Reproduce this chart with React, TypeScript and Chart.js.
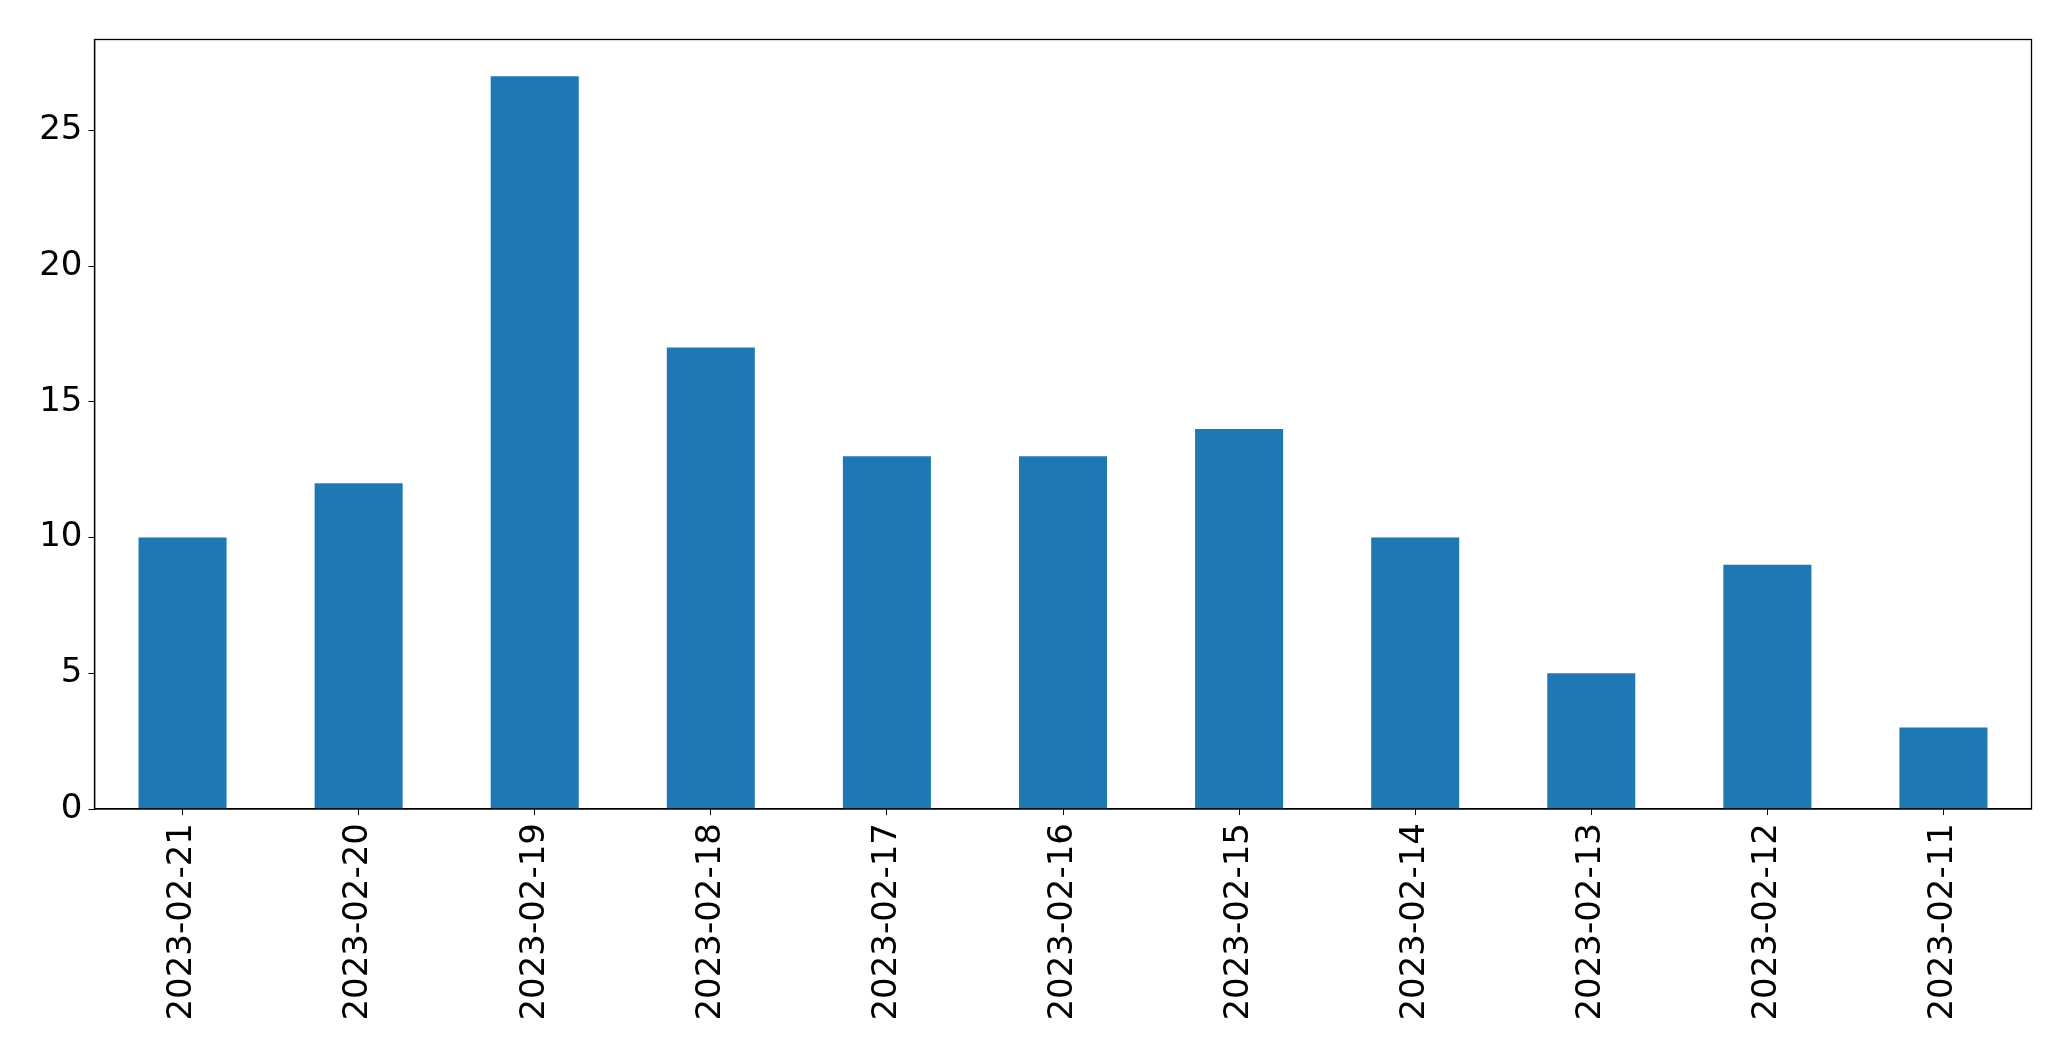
import React, { useEffect, useRef } from "react";
import { Chart, registerables } from "chart.js";

Chart.register(...registerables);

const categories = [
  "2023-02-21", "2023-02-20", "2023-02-19", "2023-02-18", "2023-02-17", "2023-02-16",
  "2023-02-15", "2023-02-14", "2023-02-13", "2023-02-12", "2023-02-11",
];
const counts = [10, 12, 27, 17, 13, 13, 14, 10, 5, 9, 3];
const yTicks = [0, 5, 10, 15, 20, 25];
const yMax = 28.35;

const W = 2071;
const H = 1061;
const LEFT = 94.5;
const TOP = 39.5;
const RIGHT = 2031.5;
const BOTTOM = 809;

const frame = {
  id: "frame",
  afterDraw(chart: any) {
    const { ctx, chartArea } = chart;
    ctx.save();
    ctx.strokeStyle = "#000";
    ctx.lineWidth = 1.3;
    ctx.strokeRect(chartArea.left, chartArea.top, chartArea.right - chartArea.left, chartArea.bottom - chartArea.top);
    ctx.restore();
  },
};

export default function App() {
  const ref = useRef<HTMLCanvasElement | null>(null);
  useEffect(() => {
    document.body.style.margin = "0";
    const font = { family: "'DejaVu Sans', sans-serif", size: 34 };
    const chart = new Chart(ref.current!, {
      type: "bar",
      data: {
        labels: categories,
        datasets: [
          {
            data: counts,
            backgroundColor: "#1f77b4",
            borderWidth: 0,
            barPercentage: 0.5,
            categoryPercentage: 1,
          },
        ],
      },
      options: {
        animation: false,
        responsive: false,
        devicePixelRatio: 1,
        layout: { padding: { left: 0, top: TOP, right: W - RIGHT, bottom: 0 } },
        plugins: { legend: { display: false }, tooltip: { enabled: false } },
        scales: {
          x: {
            offset: true,
            grid: { display: true, drawOnChartArea: false, drawTicks: true, tickLength: 6, color: "#000", offset: false },
            border: { display: true, color: "#000", width: 1.3 },
            ticks: { color: "#000", font, minRotation: 90, maxRotation: 90, padding: 8, autoSkip: false },
            afterFit(scale: any) {
              scale.height = H - BOTTOM;
            },
          },
          y: {
            min: 0,
            max: yMax,
            grid: { display: true, drawOnChartArea: false, drawTicks: true, tickLength: 6, color: "#000" },
            border: { display: true, color: "#000", width: 1.3 },
            ticks: { color: "#000", font, padding: 6 },
            afterBuildTicks(scale: any) {
              scale.ticks = yTicks.map((v) => ({ value: v }));
            },
            afterFit(scale: any) {
              scale.width = LEFT;
            },
          },
        },
      },
      plugins: [frame],
    });
    return () => chart.destroy();
  }, []);
  return (
    <div style={{ position: "fixed", left: 0, top: 0, width: W, height: H, background: "#fff" }}>
      <canvas ref={ref} width={W} height={H} style={{ width: W, height: H, display: "block" }} />
    </div>
  );
}
